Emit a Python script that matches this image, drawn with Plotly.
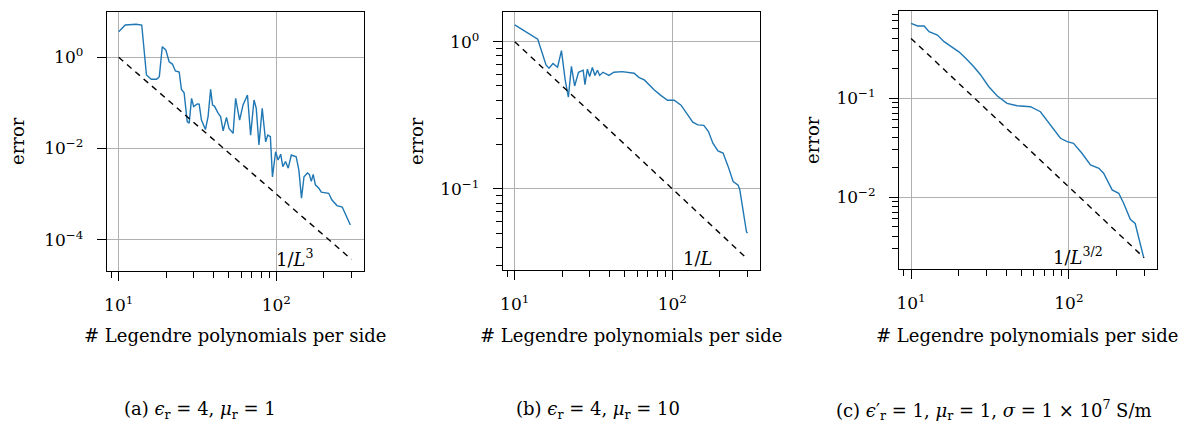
import plotly.graph_objects as go

# ---------------- data ----------------
# (a) eps_r = 4, mu_r = 1
L_a = [10, 11.0, 12.9, 14.0, 15.0, 16.1, 17.4, 18.1, 18.9, 19.9, 20.9, 21.9, 22.9, 24.2, 25.0, 26.0,
       27.2, 28.0, 29.0, 29.9, 31.5, 32.4, 33.5, 35.5, 36.9, 38.3, 39.4, 40.5, 42.8, 44.3, 46.0, 48.3,
       50.1, 53.2, 55.2, 58.5, 61.5, 65.6, 68.7, 72.2, 74.6, 77.6, 81.4, 85.6, 88.3, 91.7, 94.5, 99,
       102.6, 106.6, 110, 114.4, 119, 124.5, 133.6, 139, 144.5, 149.9, 157.5, 162, 166.7, 171.4, 177,
       186.3, 193, 215, 225, 242.5, 262, 272, 295]
err_a = [3.64, 5.1, 5.3, 5.1, 0.41, 0.33, 0.33, 0.376, 1.71, 1.45, 0.80, 0.71, 0.50, 0.476, 0.198, 0.167,
         0.039, 0.036, 0.126, 0.083, 0.095, 0.094, 0.042, 0.026, 0.050, 0.198, 0.090, 0.085, 0.059, 0.050, 0.0245, 0.048,
         0.0277, 0.0215, 0.126, 0.042, 0.090, 0.149, 0.0197, 0.116, 0.076, 0.0120, 0.076, 0.0140, 0.0197, 0.0182, 0.00239, 0.0085,
         0.0056, 0.0075, 0.0040, 0.0052, 0.0037, 0.0072, 0.0066, 0.0034, 0.00081, 0.0024, 0.0029, 0.0027, 0.0019, 0.0027, 0.0016,
         0.00134, 0.00110, 0.00104, 0.00075, 0.00056, 0.00052, 0.00039, 0.00021]

# (b) eps_r = 4, mu_r = 10
L_b = [10, 14.0, 15.8, 16.5, 17.5, 18.7, 19.8, 20.9, 21.9, 22.9, 24.0, 25.4, 27.2, 27.9, 28.9, 29.9,
       31.1, 32.3, 33.5, 34.6, 36.3, 39.6, 42.6, 48.1, 57.2, 61.6, 66.4, 72.4, 76.9, 84.9, 93.3, 102.8,
       113.6, 125.3, 134.8, 145.1, 158.5, 169.6, 180.9, 194.8, 209.9, 226, 243.2, 261.8, 268, 282, 295.5, 300]
err_b = [1.30, 1.04, 0.695, 0.66, 0.71, 0.67, 0.87, 0.55, 0.42, 0.68, 0.50, 0.62, 0.64, 0.51, 0.65, 0.58,
         0.667, 0.59, 0.64, 0.59, 0.62, 0.59, 0.62, 0.626, 0.61, 0.57, 0.55, 0.50, 0.47, 0.43, 0.40, 0.40,
         0.37, 0.318, 0.284, 0.272, 0.27, 0.245, 0.204, 0.181, 0.175, 0.142, 0.112, 0.106, 0.0985, 0.070, 0.051, 0.050]

# (c) eps'_r = 1, mu_r = 1, sigma = 1e7 S/m
L_c = [10, 11.0, 12.1, 13.0, 14.7, 16.2, 17.8, 20.1, 22.2, 25.0, 27.6, 31.1, 35.2, 40.6, 47.0, 57.1,
       66.0, 76.4, 88.5, 97.6, 107, 121, 137, 155, 166, 188, 207, 222, 245, 263, 277, 297]
err_c = [0.569, 0.534, 0.534, 0.467, 0.433, 0.371, 0.335, 0.293, 0.252, 0.207, 0.171, 0.130, 0.105, 0.0884, 0.0836, 0.0817,
         0.0727, 0.0533, 0.0392, 0.0362, 0.0349, 0.0277, 0.0211, 0.0195, 0.0174, 0.0118, 0.0109, 0.0087, 0.00595, 0.0054, 0.00398, 0.00249]

# reference slopes (end points)
L_ref = [10, 300]
ref_a = [1.0, 3.7e-5]
ref_b = [1.0, 0.0333]
ref_c = [0.40, 0.00243]

ref_labels = ["1/<i>L</i><sup>3</sup>", "1/<i>L</i>", "1/<i>L</i><sup>3/2</sup>"]
captions = ["(a) <i>ϵ</i><sub>r</sub> = 4, <i>μ</i><sub>r</sub> = 1",
            "(b) <i>ϵ</i><sub>r</sub> = 4, <i>μ</i><sub>r</sub> = 10",
            "(c) <i>ϵ</i>′<sub>r</sub> = 1, <i>μ</i><sub>r</sub> = 1, <i>σ</i> = 1 × 10<sup>7</sup> S/m"]
x_title = "# Legendre polynomials per side"
y_title = "error"

x_major = [10, 100]
x_major_text = ["10<sup>1</sup>", "10<sup>2</sup>"]
x_minor = [9, 20, 30, 40, 50, 60, 70, 80, 90, 200, 300]

y_major_a = [1, 1e-2, 1e-4]
y_major_a_text = ["10<sup>0</sup>", "10<sup>−2</sup>", "10<sup>−4</sup>"]
y_major_b = [1, 0.1]
y_major_b_text = ["10<sup>0</sup>", "10<sup>−1</sup>"]
y_minor_b = [0.03, 0.04, 0.05, 0.06, 0.07, 0.08, 0.09, 0.2, 0.3, 0.4, 0.5, 0.6, 0.7, 0.8, 0.9]
y_major_c = [0.1, 0.01]
y_major_c_text = ["10<sup>−1</sup>", "10<sup>−2</sup>"]
y_minor_c = [0.003, 0.004, 0.005, 0.006, 0.007, 0.008, 0.009,
             0.02, 0.03, 0.04, 0.05, 0.06, 0.07, 0.08, 0.09, 0.2, 0.3, 0.4, 0.5, 0.6, 0.7]

# ---------------- figure ----------------
FONT = "DejaVu Serif"
FS = 18
TFS = 17
BLUE = "#1f77b4"

fig = go.Figure()
panels = [
    (L_a, err_a, ref_a, "x", "y"),
    (L_b, err_b, ref_b, "x2", "y2"),
    (L_c, err_c, ref_c, "x3", "y3"),
]
for L, e, r, xa, ya in panels:
    fig.add_trace(go.Scatter(x=L, y=e, mode="lines", line=dict(color=BLUE, width=1.4),
                             xaxis=xa, yaxis=ya, showlegend=False, hoverinfo="skip"))
    fig.add_trace(go.Scatter(x=L_ref, y=r, mode="lines", line=dict(color="black", width=1.4, dash="6px,5px"),
                             xaxis=xa, yaxis=ya, showlegend=False, hoverinfo="skip"))

xdomains = [[0.08717, 0.30344], [0.41995, 0.63621], [0.75298, 0.96957]]
ydomains = [[0.3585, 0.9709], [0.3602, 0.9709], [0.3633, 0.9739]]
yranges = [[-4.68, 0.987], [-1.552, 0.2], [-2.724, -0.121]]
ymaj = [(y_major_a, y_major_a_text), (y_major_b, y_major_b_text), (y_major_c, y_major_c_text)]
ymin = [[], y_minor_b, y_minor_c]

common = dict(type="log", showline=True, linecolor="black", linewidth=1, mirror=True,
              ticks="outside", ticklen=9, tickwidth=1, tickcolor="black",
              showgrid=True, gridcolor="#b0b0b0", gridwidth=1, zeroline=False,
              tickfont=dict(family=FONT, size=TFS, color="black"), ticklabelstandoff=10)

for i in range(3):
    sfx = "" if i == 0 else str(i + 1)
    xax = dict(common, domain=xdomains[i], range=[0.924, 2.557], anchor="y" + sfx,
               tickvals=x_major, ticktext=x_major_text,
               minor=dict(tickvals=x_minor, ticks="outside", ticklen=6, tickwidth=1,
                          tickcolor="black", showgrid=False))
    yax = dict(common, domain=ydomains[i], range=yranges[i], anchor="x" + sfx,
               tickvals=ymaj[i][0], ticktext=ymaj[i][1])
    if ymin[i]:
        yax["minor"] = dict(tickvals=ymin[i], ticks="outside", ticklen=6, tickwidth=1,
                            tickcolor="black", showgrid=False)
    fig.update_layout(**{"xaxis" + sfx: xax, "yaxis" + sfx: yax})

annotations = []
W, H = 1193, 422
def px(x, y):
    return x / W, 1 - y / H

# reference slope labels
for (cx, cy), t in zip([(293, 258), (696, 258), (1078, 256)], ref_labels):
    ax_, ay_ = px(cx, cy)
    annotations.append(dict(x=ax_, y=ay_, xref="paper", yref="paper", text=t, showarrow=False,
                            font=dict(family=FONT, size=FS, color="black"), xanchor="center", yanchor="middle"))
# x titles
for cx in [233, 630, 1027]:
    ax_, ay_ = px(cx, 335)
    annotations.append(dict(x=ax_, y=ay_, xref="paper", yref="paper", text=x_title, showarrow=False,
                            font=dict(family=FONT, size=FS, color="black"), xanchor="center", yanchor="middle"))
# y titles
for cx, cy in [(15, 141), (415, 141), (811, 140)]:
    ax_, ay_ = px(cx, cy)
    annotations.append(dict(x=ax_, y=ay_, xref="paper", yref="paper", text=y_title, showarrow=False,
                            textangle=-90, font=dict(family=FONT, size=FS, color="black"),
                            xanchor="center", yanchor="middle"))
# captions
for cx, t in zip([197, 597, 993], captions):
    ax_, ay_ = px(cx, 410)
    annotations.append(dict(x=ax_, y=ay_, xref="paper", yref="paper", text=t, showarrow=False,
                            font=dict(family=FONT, size=FS, color="black"), xanchor="center", yanchor="middle"))

fig.update_layout(width=W, height=H, margin=dict(l=0, r=0, t=0, b=0),
                  plot_bgcolor="white", paper_bgcolor="white",
                  font=dict(family=FONT, size=FS, color="black"),
                  annotations=annotations, showlegend=False)

fig.write_html("out.html")
